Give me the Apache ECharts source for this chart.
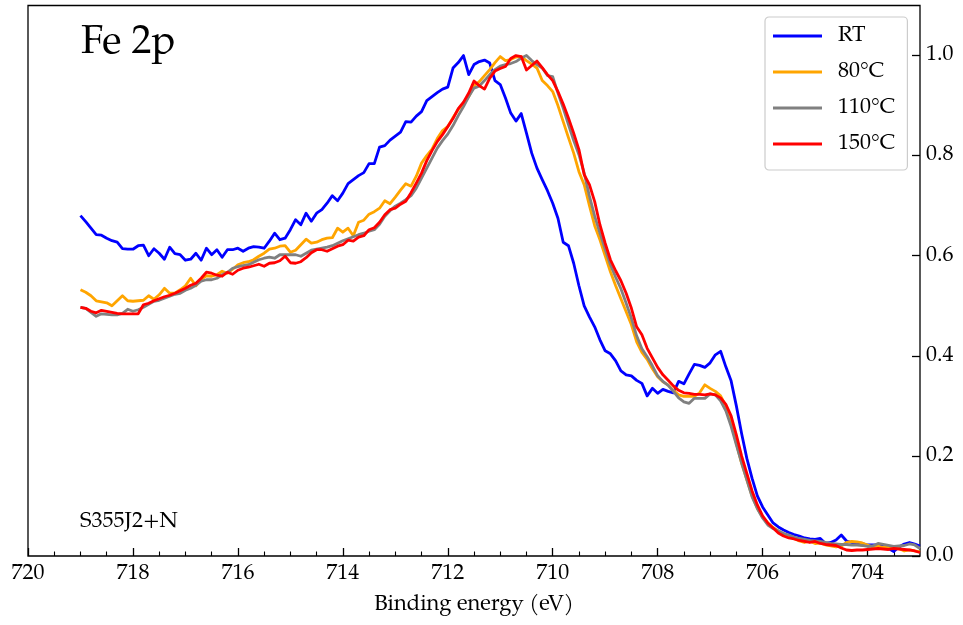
<!DOCTYPE html>
<html>
<head>
<meta charset="utf-8">
<script src="https://cdn.jsdelivr.net/npm/echarts@6/dist/echarts.min.js"></script>
<style>
html,body{margin:0;padding:0;background:#fff;}
#chart{width:963px;height:625px;}
</style>
</head>
<body>
<div id="chart"></div>
<script>
// Binding energy grid (eV)
var energies = [
 719.0,718.9,718.8,718.7,718.6,718.5,718.4,718.3,718.2,718.1,
 718.0,717.9,717.8,717.7,717.6,717.5,717.4,717.3,717.2,717.1,
 717.0,716.9,716.8,716.7,716.6,716.5,716.4,716.3,716.2,716.1,
 716.0,715.9,715.8,715.7,715.6,715.5,715.4,715.3,715.2,715.1,
 715.0,714.9,714.8,714.7,714.6,714.5,714.4,714.3,714.2,714.1,
 714.0,713.9,713.8,713.7,713.6,713.5,713.4,713.3,713.2,713.1,
 713.0,712.9,712.8,712.7,712.6,712.5,712.4,712.3,712.2,712.1,
 712.0,711.9,711.8,711.7,711.6,711.5,711.4,711.3,711.2,711.1,
 711.0,710.9,710.8,710.7,710.6,710.5,710.4,710.3,710.2,710.1,
 710.0,709.9,709.8,709.7,709.6,709.5,709.4,709.3,709.2,709.1,
 709.0,708.9,708.8,708.7,708.6,708.5,708.4,708.3,708.2,708.1,
 708.0,707.9,707.8,707.7,707.6,707.5,707.4,707.3,707.2,707.1,
 707.0,706.9,706.8,706.7,706.6,706.5,706.4,706.3,706.2,706.1,
 706.0,705.9,705.8,705.7,705.6,705.5,705.4,705.3,705.2,705.1,
 705.0,704.9,704.8,704.7,704.6,704.5,704.4,704.3,704.2,704.1,
 704.0,703.9,703.8,703.7,703.6,703.5,703.4,703.3,703.2,703.1,
 703.0
];

var seriesNames = ['RT', '80°C', '110°C', '150°C'];

var rt = [
 0.680,0.668,0.655,0.642,0.641,0.635,0.630,0.627,0.614,0.613,
 0.613,0.620,0.621,0.600,0.614,0.605,0.593,0.617,0.604,0.602,
 0.591,0.593,0.605,0.591,0.615,0.602,0.612,0.597,0.612,0.612,
 0.615,0.609,0.615,0.618,0.617,0.615,0.629,0.645,0.632,0.635,
 0.652,0.672,0.662,0.685,0.669,0.685,0.692,0.705,0.720,0.710,
 0.725,0.744,0.752,0.760,0.766,0.784,0.784,0.817,0.820,0.831,
 0.839,0.847,0.868,0.867,0.879,0.888,0.910,0.918,0.926,0.933,
 0.937,0.975,0.986,1.000,0.962,0.982,0.988,0.991,0.985,0.950,
 0.942,0.915,0.885,0.869,0.884,0.845,0.805,0.775,0.752,0.730,
 0.705,0.675,0.627,0.620,0.585,0.540,0.500,0.478,0.458,0.432,
 0.410,0.404,0.390,0.370,0.362,0.360,0.351,0.345,0.320,0.335,
 0.325,0.333,0.329,0.326,0.349,0.344,0.364,0.383,0.381,0.377,
 0.386,0.402,0.409,0.378,0.350,0.300,0.245,0.195,0.155,0.120,
 0.098,0.082,0.066,0.058,0.052,0.047,0.043,0.040,0.036,0.034,
 0.033,0.035,0.025,0.027,0.032,0.042,0.030,0.027,0.026,0.025,
 0.022,0.022,0.022,0.019,0.015,0.009,0.018,0.024,0.027,0.024,
 0.020
];

var t80 = [
 0.532,0.527,0.520,0.510,0.508,0.506,0.500,0.510,0.520,0.510,
 0.509,0.510,0.511,0.520,0.513,0.522,0.535,0.525,0.525,0.532,
 0.540,0.555,0.540,0.552,0.560,0.559,0.562,0.569,0.565,0.573,
 0.582,0.586,0.588,0.592,0.599,0.605,0.613,0.615,0.619,0.620,
 0.607,0.611,0.622,0.633,0.625,0.627,0.632,0.635,0.636,0.655,
 0.647,0.655,0.640,0.667,0.671,0.683,0.688,0.695,0.710,0.704,
 0.717,0.731,0.744,0.739,0.759,0.785,0.800,0.813,0.834,0.850,
 0.858,0.876,0.892,0.905,0.918,0.940,0.948,0.960,0.972,0.986,
 0.998,0.990,0.992,0.997,0.998,0.990,0.983,0.975,0.950,0.940,
 0.928,0.900,0.868,0.836,0.805,0.768,0.742,0.700,0.660,0.632,
 0.600,0.568,0.540,0.514,0.488,0.462,0.428,0.407,0.393,0.374,
 0.358,0.348,0.342,0.331,0.322,0.319,0.319,0.319,0.326,0.342,
 0.335,0.329,0.320,0.300,0.268,0.225,0.185,0.152,0.120,0.095,
 0.078,0.066,0.057,0.050,0.045,0.040,0.035,0.030,0.027,0.030,
 0.025,0.026,0.022,0.020,0.018,0.020,0.027,0.029,0.028,0.026,
 0.022,0.018,0.020,0.017,0.018,0.015,0.015,0.010,0.012,0.010,
 0.008
];

var t110 = [
 0.497,0.495,0.487,0.479,0.484,0.483,0.482,0.482,0.485,0.493,
 0.489,0.492,0.497,0.503,0.509,0.511,0.515,0.519,0.523,0.525,
 0.531,0.535,0.541,0.549,0.552,0.552,0.555,0.562,0.567,0.575,
 0.578,0.580,0.582,0.587,0.592,0.595,0.597,0.595,0.602,0.602,
 0.602,0.602,0.599,0.605,0.611,0.613,0.615,0.617,0.620,0.625,
 0.630,0.634,0.638,0.642,0.645,0.649,0.652,0.663,0.679,0.690,
 0.699,0.705,0.712,0.720,0.735,0.755,0.775,0.795,0.815,0.830,
 0.843,0.860,0.880,0.898,0.918,0.935,0.939,0.950,0.962,0.972,
 0.979,0.982,0.984,0.988,0.995,1.000,0.990,0.982,0.975,0.960,
 0.958,0.925,0.895,0.862,0.830,0.802,0.765,0.719,0.679,0.645,
 0.613,0.582,0.557,0.534,0.505,0.475,0.440,0.414,0.398,0.380,
 0.360,0.349,0.341,0.329,0.316,0.308,0.305,0.315,0.315,0.315,
 0.324,0.322,0.310,0.290,0.259,0.222,0.186,0.152,0.118,0.095,
 0.076,0.062,0.055,0.050,0.045,0.042,0.038,0.035,0.033,0.031,
 0.030,0.029,0.027,0.025,0.024,0.023,0.023,0.022,0.022,0.021,
 0.019,0.020,0.025,0.023,0.021,0.019,0.020,0.021,0.024,0.022,
 0.015
];

var t150 = [
 0.497,0.495,0.489,0.486,0.491,0.489,0.487,0.485,0.484,0.484,
 0.484,0.484,0.502,0.505,0.510,0.514,0.518,0.521,0.525,0.530,
 0.535,0.541,0.545,0.555,0.567,0.565,0.561,0.559,0.567,0.563,
 0.571,0.575,0.577,0.580,0.583,0.579,0.585,0.586,0.590,0.599,
 0.586,0.585,0.588,0.596,0.606,0.612,0.612,0.609,0.614,0.619,
 0.622,0.631,0.629,0.637,0.640,0.652,0.656,0.667,0.682,0.692,
 0.695,0.703,0.709,0.726,0.745,0.765,0.790,0.810,0.828,0.842,
 0.858,0.874,0.894,0.907,0.925,0.949,0.940,0.933,0.955,0.969,
 0.974,0.978,0.994,1.000,0.998,0.971,0.980,0.989,0.976,0.962,
 0.950,0.928,0.903,0.875,0.845,0.812,0.762,0.742,0.708,0.662,
 0.625,0.592,0.570,0.550,0.525,0.495,0.458,0.442,0.415,0.396,
 0.377,0.362,0.351,0.340,0.331,0.326,0.325,0.323,0.323,0.322,
 0.324,0.322,0.316,0.303,0.280,0.242,0.200,0.165,0.130,0.102,
 0.080,0.066,0.056,0.046,0.040,0.036,0.034,0.031,0.029,0.027,
 0.029,0.025,0.023,0.022,0.021,0.016,0.012,0.011,0.012,0.012,
 0.013,0.014,0.015,0.014,0.013,0.015,0.014,0.013,0.012,0.010,
 0.007
];

var xMajorTicks = [704, 706, 708, 710, 712, 714, 716, 718, 720];
var xMinorTicks = [703.5, 704.5, 705, 705.5, 706.5, 707, 707.5, 708.5, 709, 709.5,
  710.5, 711, 711.5, 712.5, 713, 713.5, 714.5, 715, 715.5, 716.5, 717, 717.5,
  718.5, 719, 719.5];
var yTicks = [0, 0.2, 0.4, 0.6, 0.8, 1.0];

var colors = ['#0000ff', '#ffa500', '#808080', '#ff0000'];
var values = [rt, t80, t110, t150];

var FONT = '"P052","TeX Gyre Pagella","Palatino Linotype","Palatino","URW Palladio L","Liberation Serif",serif';

var gridBox = {left: 28, right: 43, top: 5.5, bottom: 69};

var series = seriesNames.map(function (name, k) {
  return {
    name: name,
    type: 'line',
    xAxisIndex: 0,
    yAxisIndex: 0,
    symbol: 'none',
    showSymbol: false,
    smooth: false,
    lineStyle: {color: colors[k], width: 2.8, join: 'round'},
    itemStyle: {color: colors[k]},
    emphasis: {disabled: true},
    data: energies.map(function (e, i) { return [e, values[k][i]]; }),
    z: 2 + k
  };
});

var chart = echarts.init(document.getElementById('chart'), null, {renderer: 'canvas'});
chart.setOption({
  animation: false,
  backgroundColor: '#ffffff',
  textStyle: {fontFamily: FONT},
  grid: [
    Object.assign({show: true, borderColor: '#000', borderWidth: 1.3, backgroundColor: 'transparent'}, gridBox),
    Object.assign({show: false}, gridBox)
  ],
  xAxis: [{
    type: 'value', gridIndex: 0, min: 703, max: 720, inverse: true, position: 'bottom',
    axisLine: {show: false},
    splitLine: {show: false},
    axisTick: {show: true, inside: true, length: 8, customValues: xMajorTicks, lineStyle: {color: '#000', width: 1.3}},
    axisLabel: {show: true, customValues: xMajorTicks, margin: 7, color: '#000', fontSize: 22, fontFamily: FONT,
      formatter: function (v) { return String(Math.round(v)); }},
    name: 'Binding energy (eV)', nameLocation: 'middle', nameGap: 38,
    nameTextStyle: {color: '#000', fontSize: 22, fontFamily: FONT}
  }, {
    type: 'value', gridIndex: 1, min: 703, max: 720, inverse: true, position: 'bottom',
    axisLine: {show: false},
    splitLine: {show: false},
    axisTick: {show: true, inside: true, length: 4.5, customValues: xMinorTicks, lineStyle: {color: '#000', width: 1.1}},
    axisLabel: {show: false}
  }],
  yAxis: [{
    type: 'value', gridIndex: 0, min: 0, max: 1.1, position: 'right',
    axisLine: {show: false},
    splitLine: {show: false},
    axisTick: {show: true, inside: true, length: 8, customValues: yTicks, lineStyle: {color: '#000', width: 1.3}},
    axisLabel: {show: true, customValues: yTicks, margin: 6, color: '#000', fontSize: 22, fontFamily: FONT,
      formatter: function (v) { return v.toFixed(1); }}
  }, {
    type: 'value', gridIndex: 1, min: 0, max: 1.1, show: false
  }],
  legend: {
    show: true,
    orient: 'vertical',
    left: 765, top: 17,
    data: seriesNames.map(function (n) { return {name: n, icon: 'rect'}; }),
    selectedMode: false,
    itemWidth: 49, itemHeight: 3, itemGap: 14,
    padding: [8, 12, 15, 8],
    backgroundColor: 'rgba(255,255,255,0.8)',
    borderColor: '#cccccc', borderWidth: 1.2, borderRadius: 4,
    textStyle: {color: '#000', fontSize: 22, lineHeight: 20, fontFamily: FONT, padding: [0, 0, 0, 11]}
  },
  graphic: [
    {type: 'text', left: 81, top: 24, z: 10,
      style: {text: 'Fe 2p', fill: '#000', font: '40px ' + FONT}},
    {type: 'text', left: 80, top: 511, z: 10,
      style: {text: 'S355J2+N', fill: '#000', font: '22px ' + FONT}}
  ],
  series: series
});
</script>
</body>
</html>
